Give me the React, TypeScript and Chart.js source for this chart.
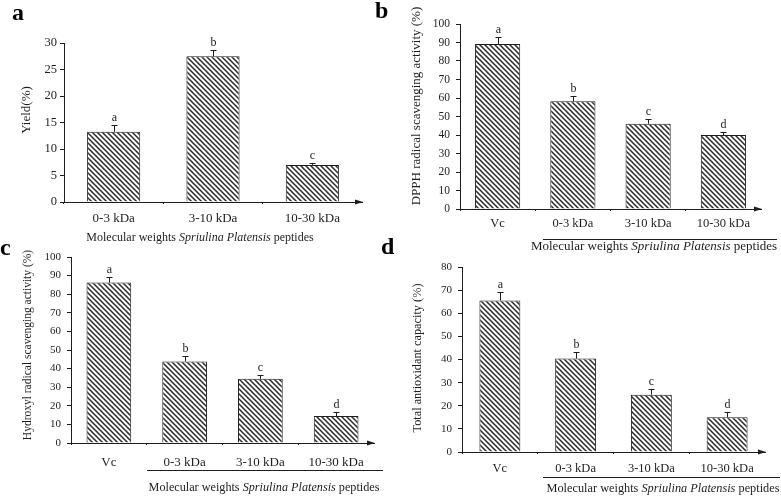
import React, { useEffect, useRef } from 'react';
import { Chart, registerables } from 'chart.js';

Chart.register(...registerables);

// ---------- data ----------
const yieldCategories = ['0-3 kDa', '3-10 kDa', '10-30 kDa'];
const yieldValues = [13.25, 27.5, 7.0];
const yieldErrors = [1.25, 1.2, 0.35];
const yieldLetters = ['a', 'b', 'c'];

const sampleCategories = ['Vc', '0-3 kDa', '3-10 kDa', '10-30 kDa'];
const dpphValues = [89.2, 58.2, 46.1, 40.0];
const dpphErrors = [4.0, 3.0, 2.5, 1.8];
const hydroxylValues = [86.3, 43.8, 34.5, 14.5];
const hydroxylErrors = [3.0, 3.0, 2.1, 2.3];
const totalValues = [65.5, 40.4, 24.8, 15.0];
const totalErrors = [3.6, 3.0, 2.4, 2.2];
const groupLetters = ['a', 'b', 'c', 'd'];

const yieldTicks = [0, 30, 5];
const dpphTicks = [0, 100, 10];
const hydroxylTicks = [0, 100, 10];
const totalTicks = [0, 80, 10];

// ---------- styling ----------
const W = 781;
const H = 497;
const INK = '#1e1e1e';
const SERIF = '"Liberation Serif", "Times New Roman", serif';

type Panel = {
  cats: string[];
  vals: number[];
  errs: number[];
  marks: string[];
  ticks: number[];
  area: { left: number; right: number; top: number; bottom: number };
  barPct: number;
  xTickFont: number;
  xTickPad: number;
  yTickFont: number;
  yTickPad: number;
  yTitle: { text: string; x: number; y: number; size: number };
  xTitle: { x: number; y: number; size: number };
  underline?: { x1: number; x2: number; y: number };
  label: { text: string; x: number; y: number };
};

const panels: Panel[] = [
  {
    cats: yieldCategories, vals: yieldValues, errs: yieldErrors, marks: yieldLetters, ticks: yieldTicks,
    area: { left: 64, right: 362, top: 43, bottom: 202 }, barPct: 0.535,
    xTickFont: 13, xTickPad: 7, yTickFont: 12.5, yTickPad: 3,
    yTitle: { text: 'Yield(%)', x: 27, y: 110, size: 13 },
    xTitle: { x: 200, y: 238, size: 12 },
    label: { text: 'a', x: 12, y: 20 },
  },
  {
    cats: sampleCategories, vals: dpphValues, errs: dpphErrors, marks: groupLetters, ticks: dpphTicks,
    area: { left: 460, right: 761, top: 24, bottom: 209 }, barPct: 0.6,
    xTickFont: 12.5, xTickPad: 5, yTickFont: 11.5, yTickPad: 6,
    yTitle: { text: 'DPPH radical scavenging activity (%)', x: 417, y: 106, size: 13 },
    xTitle: { x: 654, y: 247, size: 13 },
    underline: { x1: 543, x2: 777, y: 239 },
    label: { text: 'b', x: 375, y: 18 },
  },
  {
    cats: sampleCategories, vals: hydroxylValues, errs: hydroxylErrors, marks: groupLetters, ticks: hydroxylTicks,
    area: { left: 71, right: 374, top: 257, bottom: 443 }, barPct: 0.59,
    xTickFont: 13, xTickPad: 10, yTickFont: 11, yTickPad: 6,
    yTitle: { text: 'Hydroxyl radical scavenging activity (%)', x: 28, y: 345, size: 11.5 },
    xTitle: { x: 264, y: 488, size: 12.2 },
    underline: { x1: 147, x2: 383, y: 470 },
    label: { text: 'c', x: 0, y: 255 },
  },
  {
    cats: sampleCategories, vals: totalValues, errs: totalErrors, marks: groupLetters, ticks: totalTicks,
    area: { left: 462, right: 765, top: 267, bottom: 452 }, barPct: 0.54,
    xTickFont: 12.5, xTickPad: 7, yTickFont: 11, yTickPad: 6,
    yTitle: { text: 'Total antioxidant capacity (%)', x: 418, y: 358, size: 12.3 },
    xTitle: { x: 663, y: 489, size: 12.3 },
    underline: { x1: 543, x2: 780, y: 477 },
    label: { text: 'd', x: 381, y: 254 },
  },
];

function makeHatch(): CanvasPattern | string {
  const s = 5;
  const c = document.createElement('canvas');
  c.width = s;
  c.height = s;
  const g = c.getContext('2d');
  if (!g) return '#888';
  g.fillStyle = '#ffffff';
  g.fillRect(0, 0, s, s);
  g.strokeStyle = '#2a2a2a';
  g.lineWidth = 1.5;
  g.beginPath();
  g.moveTo(0, 0); g.lineTo(s, s);
  g.moveTo(-2, s - 2); g.lineTo(2, s + 2);
  g.moveTo(s - 2, -2); g.lineTo(s + 2, 2);
  g.stroke();
  const p = g.createPattern(c, 'repeat');
  return p || '#888';
}

function makeExtras(p: Panel) {
  return {
    id: 'extras',
    afterDraw(chart: any) {
      const ctx: CanvasRenderingContext2D = chart.ctx;
      const { right, bottom } = chart.chartArea;
      const yScale = chart.scales.y;
      const meta = chart.getDatasetMeta(0);
      ctx.save();
      // arrow head on x axis
      ctx.fillStyle = INK;
      ctx.beginPath();
      ctx.moveTo(right + 1, bottom);
      ctx.lineTo(right - 7, bottom - 2.5);
      ctx.lineTo(right - 7, bottom + 2.5);
      ctx.closePath();
      ctx.fill();
      // error bars and significance letters
      ctx.strokeStyle = INK;
      ctx.lineWidth = 1;
      ctx.font = `12px ${SERIF}`;
      ctx.textAlign = 'center';
      ctx.textBaseline = 'alphabetic';
      meta.data.forEach((bar: any, i: number) => {
        const x = Math.round(bar.x) + 0.5;
        const y0 = yScale.getPixelForValue(p.vals[i]);
        const y1 = Math.round(yScale.getPixelForValue(p.vals[i] + p.errs[i])) + 0.5;
        ctx.beginPath();
        ctx.moveTo(x, y0);
        ctx.lineTo(x, y1);
        ctx.moveTo(x - 3, y1);
        ctx.lineTo(x + 3, y1);
        ctx.stroke();
        ctx.fillStyle = INK;
        ctx.fillText(p.marks[i], x, y1 - 5);
      });
      // y title
      ctx.save();
      ctx.translate(p.yTitle.x, p.yTitle.y);
      ctx.rotate(-Math.PI / 2);
      ctx.font = `${p.yTitle.size}px ${SERIF}`;
      ctx.textAlign = 'center';
      ctx.textBaseline = 'middle';
      ctx.fillText(p.yTitle.text, 0, 0);
      ctx.restore();
      // x title with italic species name
      const parts = [
        { t: 'Molecular weights ', it: false },
        { t: 'Spriulina Platensis', it: true },
        { t: ' peptides', it: false },
      ];
      const fs = p.xTitle.size;
      let total = 0;
      parts.forEach((pt) => {
        ctx.font = `${pt.it ? 'italic ' : ''}${fs}px ${SERIF}`;
        total += ctx.measureText(pt.t).width;
      });
      let cx = p.xTitle.x - total / 2;
      ctx.textAlign = 'left';
      ctx.textBaseline = 'middle';
      parts.forEach((pt) => {
        ctx.font = `${pt.it ? 'italic ' : ''}${fs}px ${SERIF}`;
        ctx.fillText(pt.t, cx, p.xTitle.y);
        cx += ctx.measureText(pt.t).width;
      });
      // underline under the peptide groups
      if (p.underline) {
        ctx.beginPath();
        ctx.moveTo(p.underline.x1, p.underline.y + 0.5);
        ctx.lineTo(p.underline.x2, p.underline.y + 0.5);
        ctx.stroke();
      }
      // panel label
      ctx.font = `bold 24px ${SERIF}`;
      ctx.textAlign = 'left';
      ctx.textBaseline = 'alphabetic';
      ctx.fillStyle = '#000';
      ctx.fillText(p.label.text, p.label.x, p.label.y);
      ctx.restore();
    },
  };
}

function PanelChart({ p }: { p: Panel }) {
  const ref = useRef<HTMLCanvasElement | null>(null);
  useEffect(() => {
    if (!ref.current) return;
    const yW = 40;
    const xH = 30;
    const hatch = makeHatch();
    const chart = new Chart(ref.current, {
      type: 'bar',
      data: {
        labels: p.cats,
        datasets: [
          {
            data: p.vals,
            backgroundColor: hatch as any,
            borderColor: INK,
            borderWidth: 1,
            borderSkipped: 'bottom',
            barPercentage: p.barPct,
            categoryPercentage: 1,
          },
        ],
      },
      options: {
        responsive: false,
        maintainAspectRatio: false,
        animation: false,
        devicePixelRatio: 1,
        layout: {
          padding: {
            left: p.area.left - yW,
            top: p.area.top,
            right: W - p.area.right,
            bottom: H - p.area.bottom - xH,
          },
        },
        plugins: {
          legend: { display: false },
          tooltip: { enabled: false },
          title: { display: false },
        },
        scales: {
          x: {
            grid: {
              display: true,
              drawOnChartArea: false,
              drawTicks: true,
              tickLength: 2,
              offset: true,
              color: (c: any) => (c.type !== 'tick' ? 'rgba(0,0,0,0)' : INK),
            },
            border: { display: true, color: INK, width: 1 },
            ticks: {
              color: INK,
              font: { family: SERIF, size: p.xTickFont },
              padding: p.xTickPad,
              maxRotation: 0,
              autoSkip: false,
            },
            afterFit: (s: any) => { s.height = xH; },
          },
          y: {
            min: p.ticks[0],
            max: p.ticks[1],
            grid: { display: true, drawOnChartArea: false, drawTicks: true, tickLength: 4, color: INK },
            border: { display: true, color: INK, width: 1 },
            ticks: {
              stepSize: p.ticks[2],
              color: INK,
              font: { family: SERIF, size: p.yTickFont },
              padding: p.yTickPad,
            },
            afterFit: (s: any) => { s.width = yW; },
          },
        },
      },
      plugins: [makeExtras(p) as any],
    });
    return () => chart.destroy();
  }, [p]);
  return (
    <canvas
      ref={ref}
      width={W}
      height={H}
      style={{ position: 'absolute', left: 0, top: 0, width: W, height: H }}
    />
  );
}

export default function App() {
  return (
    <div style={{ position: 'fixed', left: 0, top: 0, width: W, height: H, background: '#fff', overflow: 'hidden' }}>
      {panels.map((p, i) => (
        <PanelChart key={i} p={p} />
      ))}
    </div>
  );
}
